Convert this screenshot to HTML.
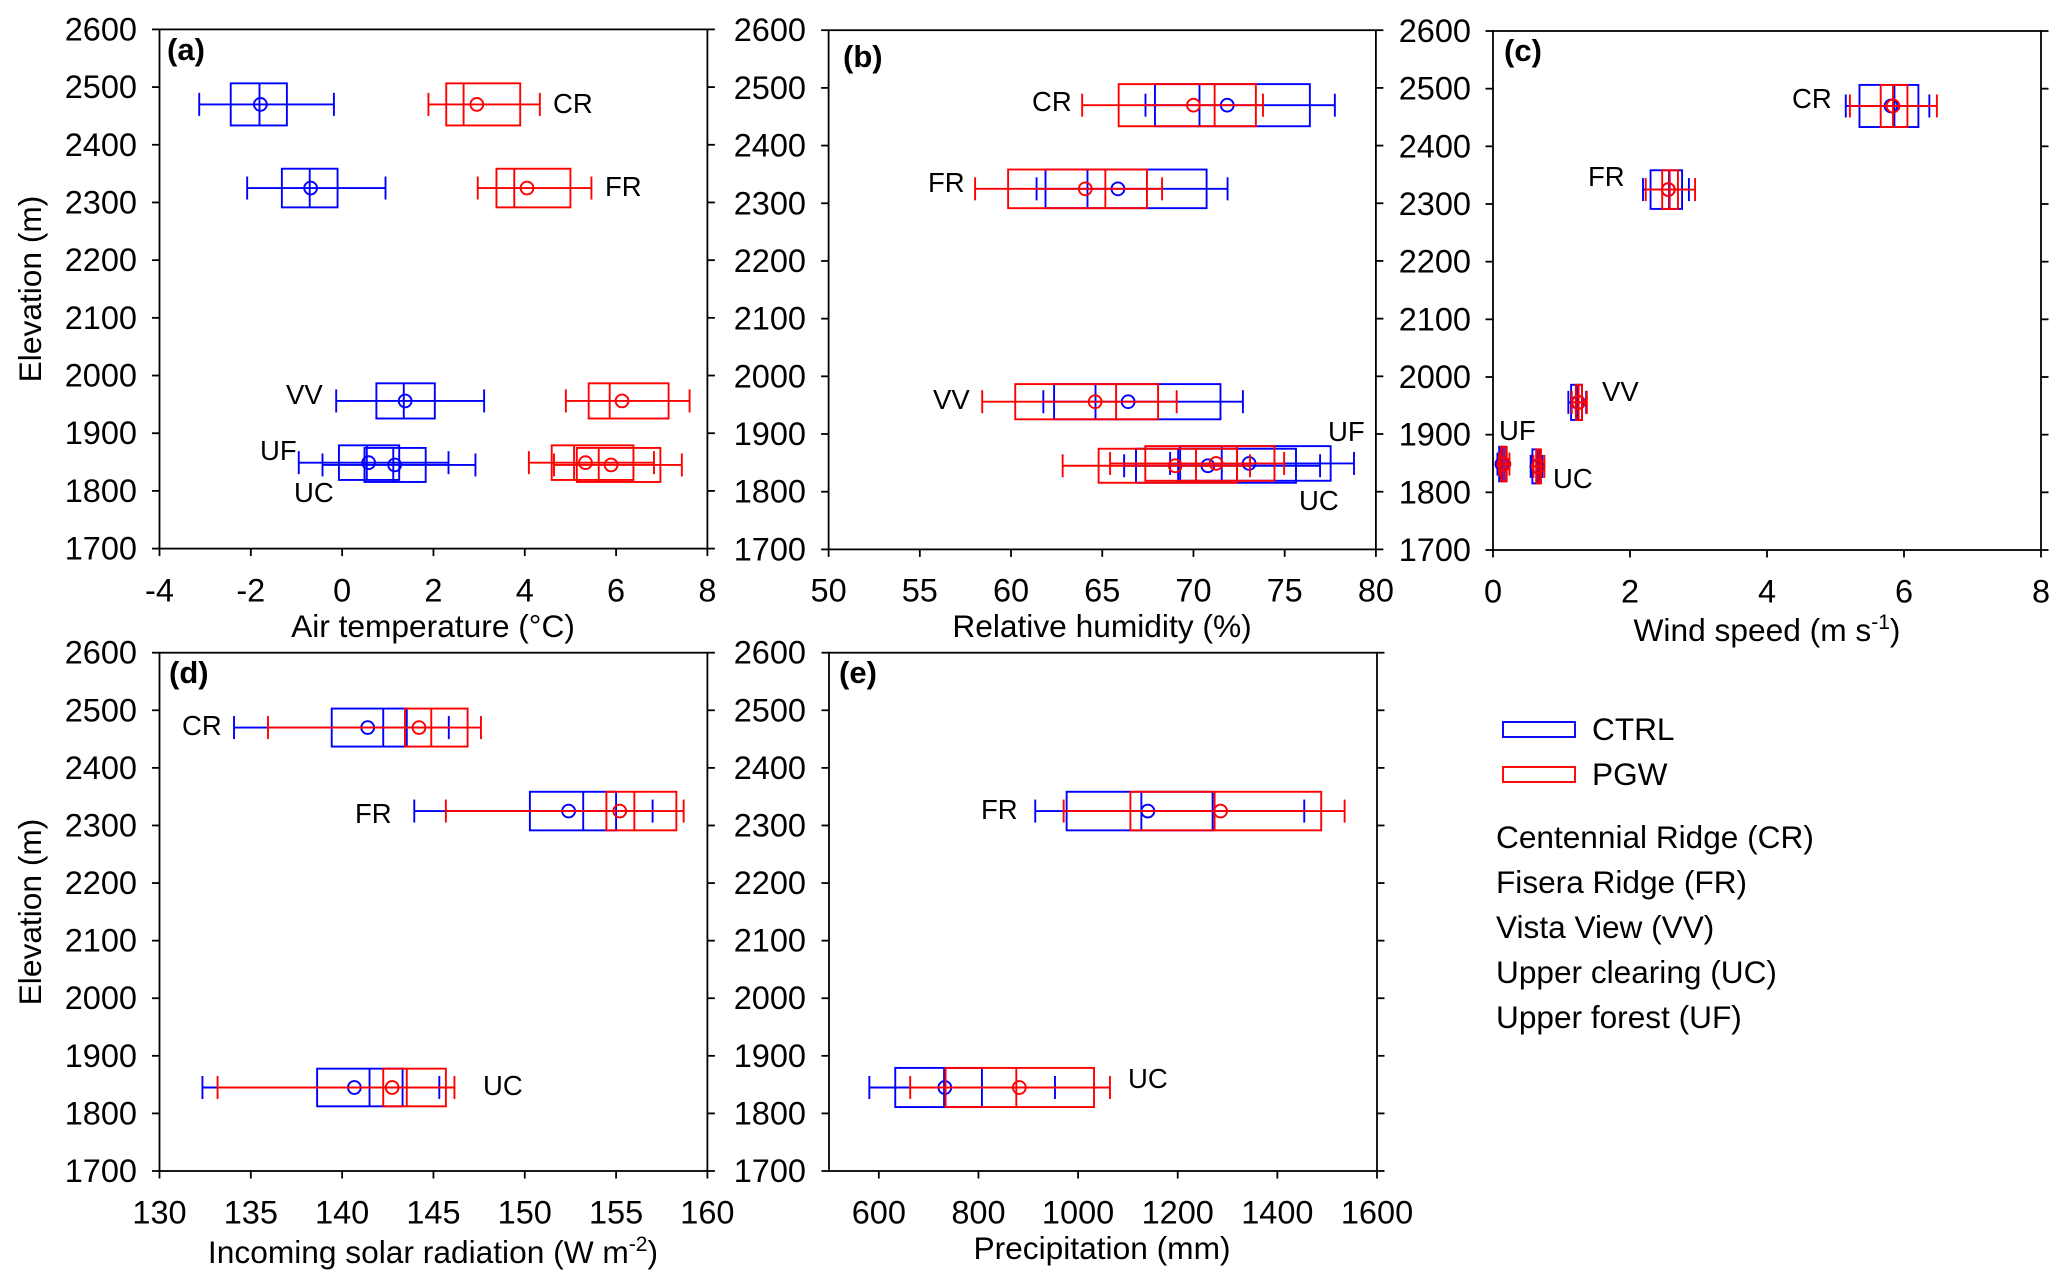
<!DOCTYPE html>
<html lang="en">
<head>
<meta charset="utf-8">
<title>Box plots of climate variables by elevation</title>
<style>
html,body{margin:0;padding:0;background:#fff;width:2067px;height:1288px;overflow:hidden}
svg{display:block;font-family:"Liberation Sans",Arial,sans-serif;fill:#000}
.tick{font-size:32.5px}
.title{font-size:31.7px}
.site{font-size:27.5px}
.panel-letter{font-size:31px;font-weight:bold}
.legend{font-size:31.6px}
</style>
</head>
<body>
<svg id="fig" xmlns="http://www.w3.org/2000/svg" width="2067" height="1288" viewBox="0 0 2067 1288">
  <g>
    <text class="panel-letter" x="167" y="60">(a)</text>
    <text class="panel-letter" x="843" y="67">(b)</text>
    <text class="panel-letter" x="1504" y="61">(c)</text>
    <text class="panel-letter" x="169" y="683">(d)</text>
    <text class="panel-letter" x="839" y="683">(e)</text>
  </g>
  <g>
    <text class="title" transform="translate(41 289) rotate(-90)" text-anchor="middle">Elevation (m)</text>
    <text class="title" transform="translate(41 912) rotate(-90)" text-anchor="middle">Elevation (m)</text>
    <text class="title" x="433" y="637" text-anchor="middle">Air temperature (°C)</text>
    <text class="title" x="1102" y="637" text-anchor="middle">Relative humidity (%)</text>
    <text class="title" x="1767" y="641" text-anchor="middle">Wind speed (m s<tspan dy="-12" font-size="21">-1</tspan><tspan dy="12">)</tspan></text>
    <text class="title" x="433" y="1263" text-anchor="middle">Incoming solar radiation (W m<tspan dy="-12" font-size="21">-2</tspan><tspan dy="12">)</tspan></text>
    <text class="title" x="1102" y="1259" text-anchor="middle">Precipitation (mm)</text>
  </g>
  <g>
    <text class="site" x="553" y="113">CR</text>
    <text class="site" x="605" y="196">FR</text>
    <text class="site" x="286" y="404">VV</text>
    <text class="site" x="260" y="460">UF</text>
    <text class="site" x="294" y="502">UC</text>
    <text class="site" x="1032" y="111">CR</text>
    <text class="site" x="928" y="192">FR</text>
    <text class="site" x="933" y="409">VV</text>
    <text class="site" x="1328" y="441">UF</text>
    <text class="site" x="1299" y="510">UC</text>
    <text class="site" x="1792" y="108">CR</text>
    <text class="site" x="1588" y="186">FR</text>
    <text class="site" x="1602" y="401">VV</text>
    <text class="site" x="1499" y="440">UF</text>
    <text class="site" x="1553" y="488">UC</text>
    <text class="site" x="182" y="735">CR</text>
    <text class="site" x="355" y="823">FR</text>
    <text class="site" x="483" y="1095">UC</text>
    <text class="site" x="981" y="819">FR</text>
    <text class="site" x="1128" y="1088">UC</text>
  </g>
  <g>
    <rect x="1503" y="722" width="72" height="15" fill="none" stroke="#0000ff" stroke-width="1.9"/>
    <text class="legend" x="1592" y="740">CTRL</text>
    <rect x="1503" y="767" width="72" height="15" fill="none" stroke="#ff0000" stroke-width="1.9"/>
    <text class="legend" x="1592" y="785">PGW</text>
    <text class="legend" x="1496" y="848">Centennial Ridge (CR)</text>
    <text class="legend" x="1496" y="893">Fisera Ridge (FR)</text>
    <text class="legend" x="1496" y="938">Vista View (VV)</text>
    <text class="legend" x="1496" y="983">Upper clearing (UC)</text>
    <text class="legend" x="1496" y="1028">Upper forest (UF)</text>
  </g>
</svg>
<script>
// Site elevations (m) and half-height of each box (m)
const elevAll = [2470, 2325, 1956, 1849, 1845];
const elevD = [2470, 2325, 1845];
const elevE = [2325, 1845];
const halfAll = [36.5, 33.5, 30.5, 30, 29.5];
const halfD = [33, 33.5, 32.7];
const halfE = [33.5, 34];
const siteAll = ['cr', 'fr', 'vv', 'uf', 'uc'];
const siteD = ['cr', 'fr', 'uc'];
const siteE = ['fr', 'uc'];

// Tick labels
const elevTicks = [1700, 1800, 1900, 2000, 2100, 2200, 2300, 2400, 2500, 2600];
const tempTicks = [-4, -2, 0, 2, 4, 6, 8];
const rhTicks = [50, 55, 60, 65, 70, 75, 80];
const windTicks = [0, 2, 4, 6, 8];
const solarTicks = [130, 135, 140, 145, 150, 155, 160];
const precipTicks = [600, 800, 1000, 1200, 1400, 1600];

// Each row: [whisker low, q1, median, q3, whisker high, mean]
const tempCtrl = [
  [-3.13, -2.44, -1.81, -1.21, -0.18, -1.79],
  [-2.08, -1.32, -0.71, -0.10, 0.95, -0.69],
  [-0.13, 0.75, 1.35, 2.03, 3.11, 1.38],
  [-0.95, -0.07, 0.54, 1.25, 2.33, 0.58],
  [-0.43, 0.49, 1.12, 1.83, 2.92, 1.15]
];
const tempPgw = [
  [1.89, 2.28, 2.66, 3.90, 4.33, 2.95],
  [2.97, 3.38, 3.77, 5.00, 5.46, 4.05],
  [4.90, 5.40, 5.86, 7.15, 7.61, 6.13],
  [4.09, 4.59, 5.08, 6.38, 6.83, 5.33],
  [4.64, 5.14, 5.62, 6.97, 7.44, 5.89]
];
const rhCtrl = [
  [67.37, 67.89, 70.33, 76.38, 77.75, 71.85],
  [61.40, 61.89, 64.19, 70.72, 71.87, 65.86],
  [61.77, 62.36, 64.63, 71.48, 72.71, 66.42],
  [68.72, 69.27, 71.55, 77.52, 78.80, 73.05],
  [66.20, 66.85, 69.16, 75.62, 76.94, 70.79]
];
const rhPgw = [
  [63.90, 65.90, 71.16, 73.42, 73.81, 70.00],
  [58.03, 59.84, 65.17, 67.45, 68.28, 64.07],
  [58.42, 60.23, 65.76, 68.06, 69.08, 64.61],
  [65.43, 67.36, 72.39, 74.44, 74.97, 71.24],
  [62.83, 64.80, 70.14, 72.39, 73.10, 69.00]
];
const windCtrl = [
  [5.15, 5.35, 5.86, 6.21, 6.37, 5.81],
  [2.19, 2.30, 2.57, 2.76, 2.86, 2.56],
  [1.10, 1.14, 1.23, 1.30, 1.36, 1.24],
  [0.065, 0.09, 0.13, 0.17, 0.165, 0.13],
  [0.55, 0.575, 0.65, 0.68, 0.72, 0.64]
];
const windPgw = [
  [5.21, 5.66, 5.84, 6.05, 6.48, 5.84],
  [2.23, 2.47, 2.58, 2.70, 2.95, 2.56],
  [1.15, 1.21, 1.25, 1.30, 1.37, 1.25],
  [0.09, 0.115, 0.16, 0.20, 0.24, 0.16],
  [0.59, 0.63, 0.665, 0.70, 0.75, 0.66]
];
const solarCtrl = [
  [134.08, 139.43, 142.25, 143.54, 145.84, 141.40],
  [143.95, 150.28, 153.20, 155.00, 157.00, 152.40],
  [132.35, 138.63, 141.50, 143.31, 145.32, 140.67]
];
const solarPgw = [
  [135.94, 143.44, 144.88, 146.87, 147.60, 144.21],
  [145.68, 154.47, 156.00, 158.30, 158.70, 155.20],
  [133.18, 142.25, 143.54, 145.68, 146.15, 142.74]
];
const precipCtrl = [
  [914, 977, 1127, 1270, 1454, 1140],
  [581, 633, 731, 807, 953.6, 732.5]
];
const precipPgw = [
  [971, 1105, 1274, 1488, 1535, 1286],
  [663, 734, 876, 1032, 1064, 882]
];

const NS = 'http://www.w3.org/2000/svg';
const fig = document.getElementById('fig');
const AXIS_W = 1.8, MARK_W = 1.9, TICK_LEN = 7.5, CAP_H = 23, MEAN_R = 6.4;

function make(tag, attrs, parent) {
  const el = document.createElementNS(NS, tag);
  for (const k in attrs) el.setAttribute(k, attrs[k]);
  parent.appendChild(el);
  return el;
}

function drawSeries(root, id, color, rows, sites, elevs, halves, sx, sy) {
  rows.forEach(function (r, i) {
    const g = make('g', {}, root);
    
    
    const stroke = {stroke: color, 'stroke-width': MARK_W, fill: 'none'};
    const yc = sy(elevs[i]);
    const yT = sy(elevs[i] + halves[i]);
    const yB = sy(elevs[i] - halves[i]);

    const whisker = make('line', Object.assign({x1: sx(r[0]), x2: sx(r[4]), y1: yc, y2: yc}, stroke), g);
    
    

    const capLow = make('line', Object.assign({x1: sx(r[0]), x2: sx(r[0]), y1: yc - CAP_H / 2, y2: yc + CAP_H / 2}, stroke), g);
    
    

    const capHigh = make('line', Object.assign({x1: sx(r[4]), x2: sx(r[4]), y1: yc - CAP_H / 2, y2: yc + CAP_H / 2}, stroke), g);
    
    

    const box = make('rect', Object.assign({x: sx(r[1]), y: yT, width: sx(r[3]) - sx(r[1]), height: yB - yT}, stroke), g);
    
    

    const med = make('line', Object.assign({x1: sx(r[2]), x2: sx(r[2]), y1: yT, y2: yB}, stroke), g);
    
    

    const mean = make('circle', Object.assign({cx: sx(r[5]), cy: yc, r: MEAN_R}, stroke), g);
    
    
  });
}

function drawPanel(id, L, R, T, B, xMin, xMax, xTicks, labelRight, labelBaseline, sites, elevs, halves, ctrl, pgw) {
  const sx = function (v) { return L + (v - xMin) / (xMax - xMin) * (R - L); };
  const sy = function (v) { return B - (v - 1700) / 900 * (B - T); };
  const g = make('g', {}, fig);
  
  

  const ax = {stroke: '#000', 'stroke-width': AXIS_W, fill: 'none'};
  const frame = make('rect', Object.assign({x: L, y: T, width: R - L, height: B - T}, ax), g);
  
  

  elevTicks.forEach(function (t) {
    const y = sy(t);
    const tl = make('line', Object.assign({x1: L - TICK_LEN, x2: L, y1: y, y2: y}, ax), g);
    
    

    const tr = make('line', Object.assign({x1: R, x2: R + TICK_LEN, y1: y, y2: y}, ax), g);
    
    

    const lab = make('text', {class: 'tick', x: labelRight, y: y + 11, 'text-anchor': 'end'}, g);
    
    
    lab.textContent = String(t);
  });

  xTicks.forEach(function (t) {
    const x = sx(t);
    const tk = make('line', Object.assign({x1: x, x2: x, y1: B, y2: B + TICK_LEN}, ax), g);
    
    

    const lab = make('text', {class: 'tick', x: x, y: labelBaseline, 'text-anchor': 'middle'}, g);
    
    
    lab.textContent = String(t);
  });

  drawSeries(g, 'ctrl', '#0000ff', ctrl, sites, elevs, halves, sx, sy);
  drawSeries(g, 'pgw', '#ff0000', pgw, sites, elevs, halves, sx, sy);
}

drawPanel('a-air-temperature', 159.5, 707.4, 29.4, 548.6, -4, 8, tempTicks, 137, 601.5, siteAll, elevAll, halfAll, tempCtrl, tempPgw);
drawPanel('b-relative-humidity', 828.6, 1375.9, 30.2, 549.4, 50, 80, rhTicks, 806, 601.5, siteAll, elevAll, halfAll, rhCtrl, rhPgw);
drawPanel('c-wind-speed', 1493, 2041, 31, 550, 0, 8, windTicks, 1471, 602.5, siteAll, elevAll, halfAll, windCtrl, windPgw);
drawPanel('d-solar-radiation', 159.5, 707.4, 652.7, 1171, 130, 160, solarTicks, 137, 1223.5, siteD, elevD, halfD, solarCtrl, solarPgw);
drawPanel('e-precipitation', 829, 1377, 652.7, 1171, 500, 1600, precipTicks, 806, 1223.5, siteE, elevE, halfE, precipCtrl, precipPgw);
</script>
</body>
</html>
